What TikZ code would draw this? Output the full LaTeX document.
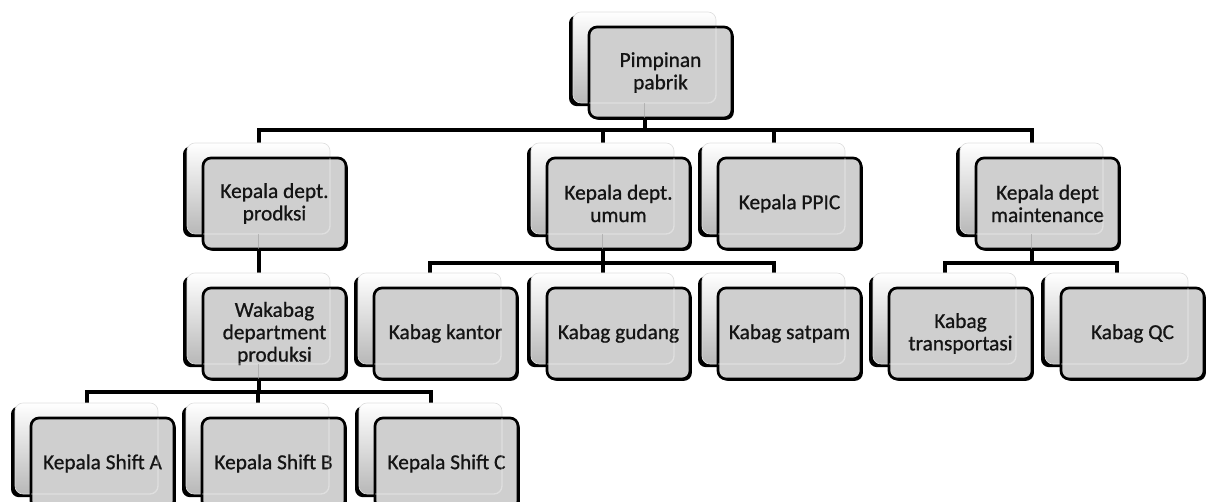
\documentclass[tikz,border=0pt]{standalone}
\usepackage{fontspec}
\setmainfont{Carlito}
\newfontfamily\cardfont{Carlito}[FakeBold=0.8]
\usetikzlibrary{calc,shadows,backgrounds}
\definecolor{frontgray}{HTML}{CFCFCF}
\definecolor{backgray}{HTML}{B8B8B8}
\definecolor{inkgray}{HTML}{141414}
\tikzset{
  backbox/.style={rounded corners=6pt, minimum width=107.25pt, minimum height=68.25pt,
    inner sep=0pt, outer sep=0pt, top color=white, bottom color=backgray,
    draw=gray!25, line width=0.5pt,
    general shadow={fill=black, shadow xshift=-3pt, shadow yshift=-2.4pt}},
  frontbox/.style={rounded corners=6pt, minimum width=107.25pt, minimum height=68.25pt,
    inner sep=0pt, outer sep=0pt, fill=frontgray, draw=black, line width=2pt,
    general shadow={fill=black, shadow xshift=1.4pt, shadow yshift=-1.4pt},
    align=center, text=inkgray, font=\cardfont\fontsize{16}{16.8}\selectfont},
  conn/.style={line width=3pt, black},
  seethrough/.style={line width=1pt, white, opacity=0.35},
  seeline/.style={line width=1.1pt, gray!75, opacity=0.6},
}
% one unit: a pale back card and a grey front card holding the title
\newcommand{\orgunit}[4]{%
  \node[backbox, anchor=north west] (#1b) at (#2,#3) {};
  \node[frontbox, anchor=north west] (#1) at (#2+16,#3+15) {#4};
  \begin{scope}
    \clip[rounded corners=6pt] (#1.south west) rectangle (#1.north east);
    \draw[seethrough, rounded corners=6pt] (#1b.south west) rectangle (#1b.north east);
  \end{scope}
}
% connector from a parent to one child through a horizontal rail
\newcommand{\orglink}[3]{%
  \draw[conn] (#1b.south) |- (#2 -| #3b.north) -- (#3b.north);
}
\newcommand{\peek}[1]{%
  \draw[seeline] (#1b.south) -- (#1b.south |- #1.south);
}
\begin{document}
\begin{tikzpicture}[x=0.75pt,y=-0.75pt]
  \useasboundingbox (0,0) rectangle (1213,502);
  \clip (0,0) rectangle (1213,502);

  % rail heights
  \coordinate (railA) at (0,130);
  \coordinate (railB) at (0,263);
  \coordinate (railC) at (0,392);

  \orgunit{pim}{573}{12}{Pimpinan\\pabrik}

  \orgunit{prod}{187}{143}{Kepala dept.\\prodksi}
  \orgunit{umum}{531}{143}{Kepala dept.\\umum}
  \orgunit{ppic}{702}{143}{Kepala PPIC}
  \orgunit{maint}{960}{143}{Kepala dept\\maintenance}

  \orgunit{waka}{187}{273}{Wakabag\\department\\produksi}
  \orgunit{kantor}{358}{273}{Kabag kantor}
  \orgunit{gudang}{531}{273}{Kabag gudang}
  \orgunit{satpam}{702}{273}{Kabag satpam}
  \orgunit{trans}{873}{273}{Kabag\\transportasi}
  \orgunit{qc}{1045}{273}{Kabag QC}

  \orgunit{shiftA}{15}{403}{Kepala Shift A}
  \orgunit{shiftB}{186}{403}{Kepala Shift B}
  \orgunit{shiftC}{359}{403}{Kepala Shift C}

  \begin{scope}[on background layer]
    \orglink{pim}{railA}{prod}
    \orglink{pim}{railA}{umum}
    \orglink{pim}{railA}{ppic}
    \orglink{pim}{railA}{maint}
    \draw[conn] (prodb.south) -- (prodb.south |- wakab.north);
    \orglink{umum}{railB}{kantor}
    \orglink{umum}{railB}{gudang}
    \orglink{umum}{railB}{satpam}
    \orglink{maint}{railB}{trans}
    \orglink{maint}{railB}{qc}
    \orglink{waka}{railC}{shiftA}
    \orglink{waka}{railC}{shiftB}
    \orglink{waka}{railC}{shiftC}
  \end{scope}

  \peek{pim}
  \peek{prod}
  \peek{umum}
  \peek{maint}
  \peek{waka}
\end{tikzpicture}
\end{document}
